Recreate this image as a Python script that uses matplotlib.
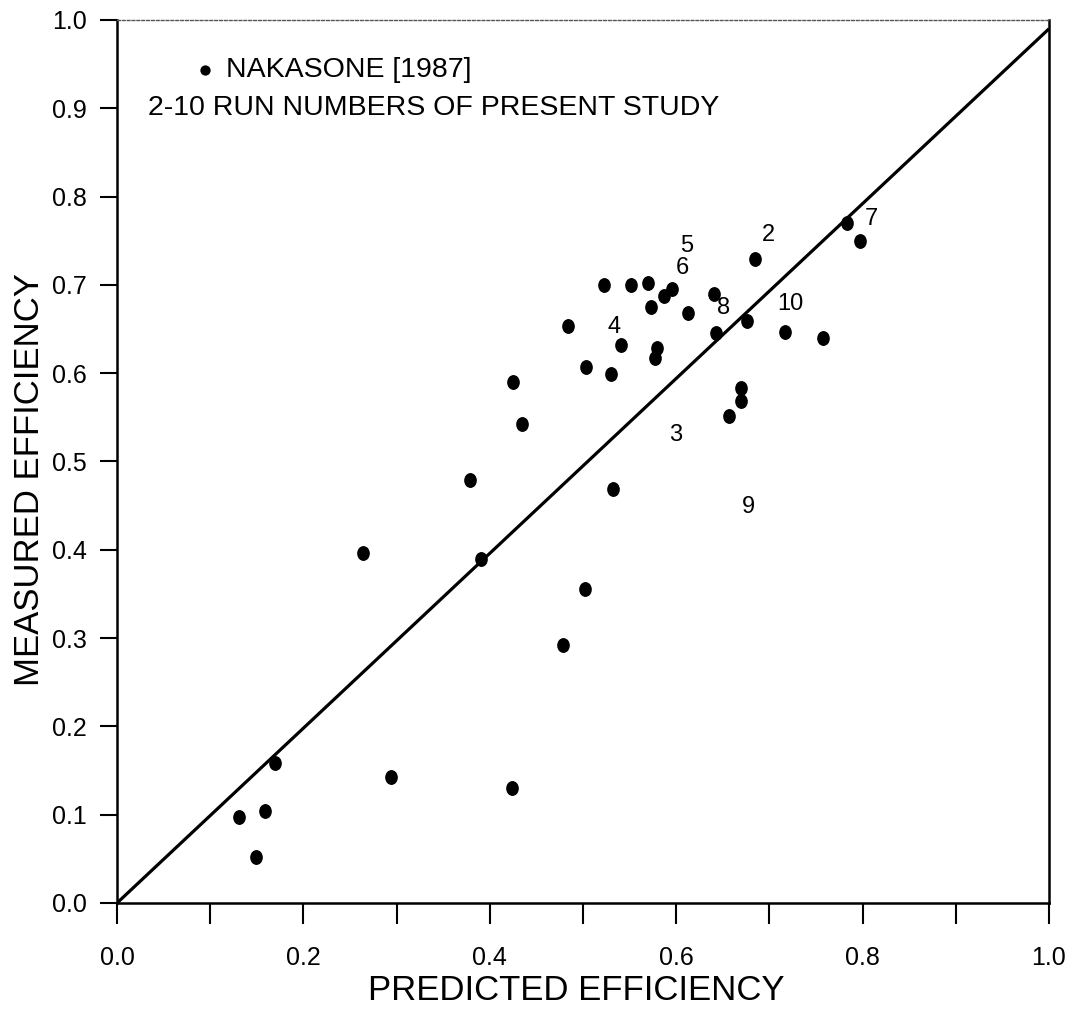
import numpy as np
import matplotlib
matplotlib.use("Agg")
import matplotlib.pyplot as plt
from matplotlib.path import Path

plt.rcParams['font.family'] = ['Liberation Sans', 'DejaVu Sans']

# --- dados (Nakasone 1987) ---
pred_eff = [0.131, 0.149, 0.159, 0.170, 0.264, 0.294, 0.379, 0.390, 0.4235,
            0.425, 0.435, 0.484, 0.503, 0.523, 0.530, 0.532, 0.541, 0.551,
            0.570, 0.573, 0.577, 0.579, 0.587, 0.596, 0.613, 0.641, 0.643,
            0.657, 0.670, 0.670, 0.676, 0.685, 0.717, 0.758, 0.783, 0.797,
            0.478, 0.502]
meas_eff = [0.097, 0.052, 0.104, 0.158, 0.396, 0.143, 0.479, 0.390, 0.130,
            0.590, 0.542, 0.653, 0.607, 0.700, 0.599, 0.469, 0.632, 0.700,
            0.702, 0.675, 0.617, 0.628, 0.687, 0.695, 0.668, 0.690, 0.646,
            0.551, 0.583, 0.569, 0.659, 0.729, 0.647, 0.640, 0.770, 0.750,
            0.292, 0.355]

# numeros das corridas do presente estudo (posicao dos rotulos)
run_labels = ['2', '3', '4', '5', '6', '7', '8', '9', '10']
run_x = [0.699, 0.599, 0.533, 0.611, 0.607, 0.809, 0.651, 0.677, 0.722]
run_y = [0.756, 0.530, 0.652, 0.744, 0.719, 0.775, 0.674, 0.448, 0.678]

# linha 1:1
line_x = [0.0, 1.0]
line_y = [0.0, 0.99]

ticks_x = np.arange(0, 1.01, 0.1)
ticks_y = np.arange(0, 1.01, 0.1)

# marcador levemente oval, como no original
circ = Path.unit_circle()
oval = Path(circ.vertices * [0.85, 1.0], circ.codes)

fig = plt.figure(figsize=(10.68, 10.18), dpi=100)
ax = fig.add_axes([0.1096, 0.1130, 0.8726, 0.8674])

ax.plot(line_x, line_y, color='black', lw=2.3, solid_capstyle='butt')
ax.scatter(pred_eff, meas_eff, marker=oval, s=115, color='black', linewidths=0, zorder=3)

for lab, x, y in zip(run_labels, run_x, run_y):
    ax.text(x, y, lab, fontsize=17, ha='center', va='center')

# legenda escrita a mao
ax.scatter([0.094], [0.943], marker='o', s=55, color='black', linewidths=0)
ax.text(0.117, 0.943, 'NAKASONE [1987]', fontsize=20.5, va='center', ha='left')
ax.text(0.033, 0.900, '2-10 RUN NUMBERS OF PRESENT STUDY', fontsize=20.5,
        va='center', ha='left')

ax.set_xlim(0, 1)
ax.set_ylim(0, 1)
ax.set_xticks(ticks_x)
ax.set_xticklabels(['0.0' if i == 0 else (f'{t:.1f}' if i % 2 == 0 else '')
                    for i, t in enumerate(ticks_x)])
ax.set_yticks(ticks_y)
ax.set_yticklabels([f'{t:.1f}' for t in ticks_y])
ax.tick_params(axis='x', direction='out', length=15, width=1.5, pad=16, labelsize=18)
ax.tick_params(axis='y', direction='out', length=12, width=1.5, pad=10, labelsize=18)

for s in ['left', 'bottom', 'right']:
    ax.spines[s].set_linewidth(1.8)
ax.spines['top'].set_linewidth(1.0)
ax.spines['top'].set_linestyle((0, (2, 1.5)))
ax.spines['top'].set_color('#555555')

fig.text(0.54, 0.0275, 'PREDICTED EFFICIENCY', fontsize=25, ha='center', va='center')
fig.text(0.028, 0.5285, 'MEASURED EFFICIENCY', fontsize=25, ha='center', va='center',
         rotation=90)

fig.savefig('out.png', dpi=100)
